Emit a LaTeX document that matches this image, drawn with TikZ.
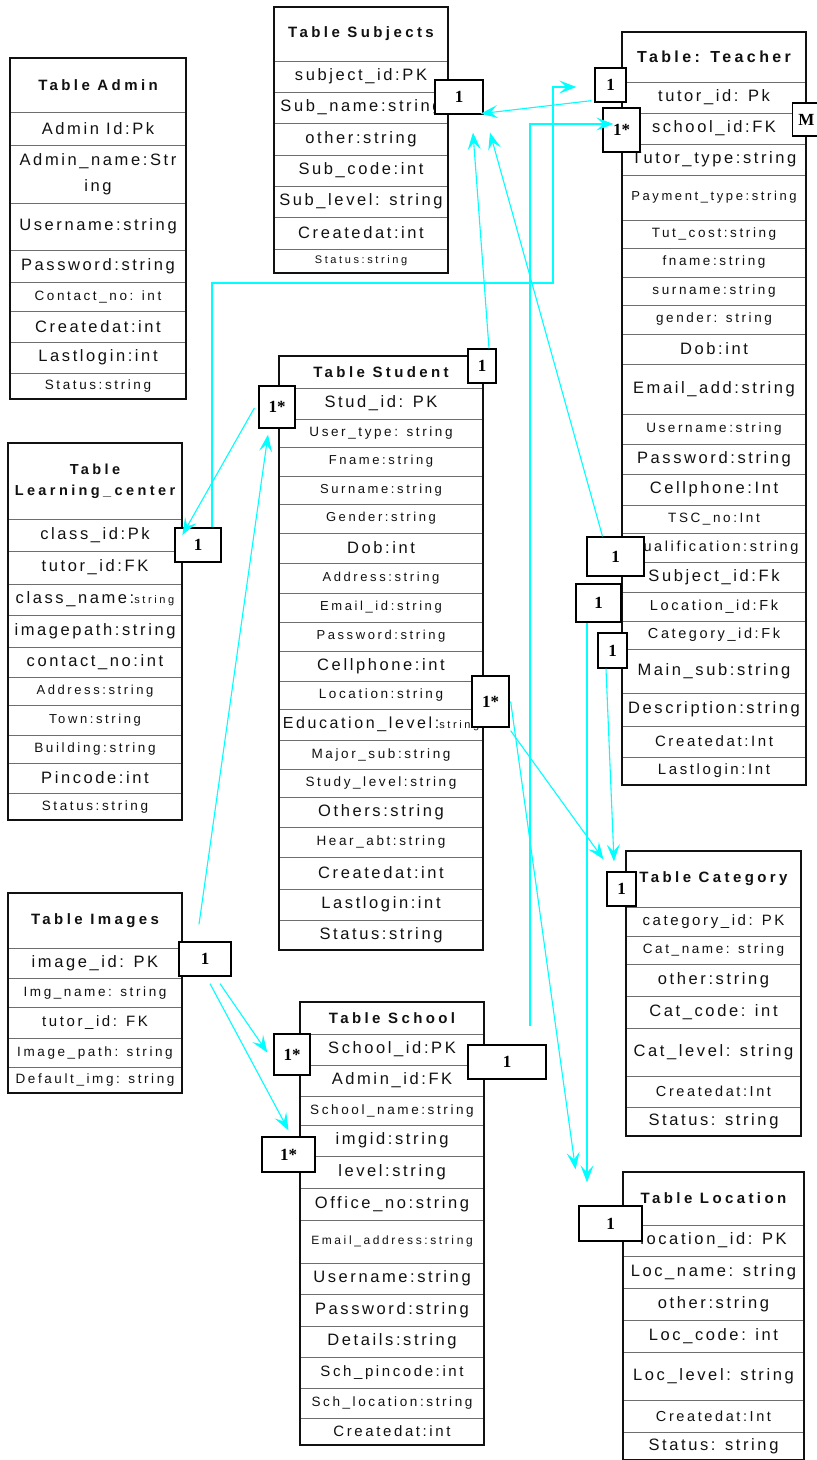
\documentclass[tikz,border=0pt]{standalone}
\usepackage{fontspec}
\usetikzlibrary{arrows.meta}
\newfontfamily\tabfont{Liberation Sans}
\newfontfamily\cardfont{Liberation Serif}
\definecolor{sepgray}{HTML}{6E6E6E}
\definecolor{linkcyan}{HTML}{00FFFF}
\definecolor{inkblack}{HTML}{111111}

% size with tracking: optional gap (pt) between letters, then font size
\newcommand\tsz[2][2.6]{\fontsize{#2}{#2}\selectfont\edef\lsspec{LetterSpace=\fpeval{round(100*(#1)/(#2),2)}}\expandafter\addfontfeature\expandafter{\lsspec}}
\newcommand\szB{\tsz{16.5}}
\newcommand\szM{\tsz{15}}
\newcommand\szS{\tsz{13.5}}
\newcommand\szT{\tsz{13}}
\newcommand\szU{\tsz{11}}
\newcommand\szH{\tsz[3.4]{15}}

% one table row: name, x1, x2, y1, y2, text
\newcommand\trow[6]{%
  \draw[sep] (#2,#4) rectangle (#3,#5);
  \node[celltext] (#1) at ({(#2+#3)/2},{(#4+#5)/2}) {#6};}
\newcommand\thead[6]{%
  \draw[sep] (#2,#4) rectangle (#3,#5);
  \node[titletext] (#1) at ({(#2+#3)/2},{(#4+#5)/2}) {#6};}

\begin{document}
\begin{tikzpicture}[x=1pt,y=-1pt,
  sep/.style={draw=sepgray,line width=0.9pt},
  frame/.style={draw=inkblack,line width=1.1pt},
  celltext/.style={inner sep=0pt,align=center,text=inkblack,font=\tabfont},
  titletext/.style={inner sep=0pt,align=center,text=inkblack,font=\tabfont\bfseries},
  card/.style={draw=black,line width=1.3pt,fill=white,inner sep=0pt,
    font=\cardfont\bfseries\fontsize{17}{17}\selectfont},
  conn/.style={draw=linkcyan,line width=1.1pt},
  link/.style={conn,-{Stealth[length=17pt,width=13pt,inset=7pt]}}
]
\fill[white] (0,0) rectangle (817,1460);
\useasboundingbox (0,0) rectangle (817,1460);

% ---------- Table Admin ----------
\thead{ad0}{10}{186}{58}{112}{\szH Table Admin}
\trow{ad1}{10}{186}{112}{145}{\szB Admin Id:Pk}
\trow{ad2}{10}{186}{145}{203}{\szB Admin\_name:Str\\[10pt]\szB ing}
\trow{ad3}{10}{186}{203}{250}{\szB Username:string}
\trow{ad4}{10}{186}{250}{282}{\szB Password:string}
\trow{ad5}{10}{186}{282}{311}{\szS Contact\_no: int}
\trow{ad6}{10}{186}{311}{342}{\szB Createdat:int}
\trow{ad7}{10}{186}{342}{373}{\szB Lastlogin:int}
\trow{ad8}{10}{186}{373}{399}{\szS Status:string}
\draw[frame] (10,58) rectangle (186,399);

% ---------- Table Subjects ----------
\thead{su0}{274}{448}{7}{61}{\szH Table Subjects}
\trow{su1}{274}{448}{61}{92}{\szB subject\_id:PK}
\trow{su2}{274}{448}{92}{123}{\szB Sub\_name:string}
\trow{su3}{274}{448}{123}{155}{\szB other:string}
\trow{su4}{274}{448}{155}{186}{\szB Sub\_code:int}
\trow{su5}{274}{448}{186}{217}{\szB Sub\_level: string}
\trow{su6}{274}{448}{217}{249}{\szB Createdat:int}
\trow{su7}{274}{448}{249}{273}{\szU Status:string}
\draw[frame] (274,7) rectangle (448,273);

% ---------- Table Teacher ----------
\thead{te0}{622}{806}{32}{82}{\tsz[3.4]{16} Table: Teacher}
\trow{te1}{622}{806}{82}{113}{\szB tutor\_id: Pk}
\trow{te2}{622}{806}{113}{144}{\szB school\_id:FK}
\trow{te3}{622}{806}{144}{175}{\szB Tutor\_type:string}
\trow{te4}{622}{806}{175}{220}{\szT Payment\_type:string}
\trow{te5}{622}{806}{220}{248}{\szS Tut\_cost:string}
\trow{te6}{622}{806}{248}{277}{\szS fname:string}
\trow{te7}{622}{806}{277}{305}{\szS surname:string}
\trow{te8}{622}{806}{305}{334}{\szS gender: string}
\trow{te9}{622}{806}{334}{364}{\szB Dob:int}
\trow{te10}{622}{806}{364}{414}{\szB Email\_add:string}
\trow{te11}{622}{806}{414}{444}{\szS Username:string}
\trow{te12}{622}{806}{444}{474}{\szB Password:string}
\trow{te13}{622}{806}{474}{505}{\szB Cellphone:Int}
\trow{te14}{622}{806}{505}{533}{\szS TSC\_no:Int}
\trow{te15}{622}{806}{533}{562}{\tsz{14.5}Qualification:string}
\trow{te16}{622}{806}{562}{592}{\szB Subject\_id:Fk}
\trow{te17}{622}{806}{592}{621}{\tsz{14.5}Location\_id:Fk}
\trow{te18}{622}{806}{621}{649}{\tsz{14.5}Category\_id:Fk}
\trow{te19}{622}{806}{649}{693}{\szB Main\_sub:string}
\trow{te20}{622}{806}{693}{726}{\szB Description:string}
\trow{te21}{622}{806}{726}{757}{\szM Createdat:Int}
\trow{te22}{622}{806}{757}{785}{\szM Lastlogin:Int}
\draw[frame] (622,32) rectangle (806,785);

% ---------- Table Student ----------
\thead{st0}{279}{483}{356}{388}{\szH Table Student}
\trow{st1}{279}{483}{388}{419}{\szB Stud\_id: PK}
\trow{st2}{279}{483}{419}{447}{\szS User\_type: string}
\trow{st3}{279}{483}{447}{476}{\szT Fname:string}
\trow{st4}{279}{483}{476}{504}{\szT Surname:string}
\trow{st5}{279}{483}{504}{533}{\szT Gender:string}
\trow{st6}{279}{483}{533}{563}{\szB Dob:int}
\trow{st7}{279}{483}{563}{593}{\szT Address:string}
\trow{st8}{279}{483}{593}{622}{\szT Email\_id:string}
\trow{st9}{279}{483}{622}{651}{\szT Password:string}
\trow{st10}{279}{483}{651}{681}{\szB Cellphone:int}
\trow{st11}{279}{483}{681}{709}{\szS Location:string}
\trow{st12}{279}{483}{709}{740}{\tsz{16}Education\_level:{\szU string}}
\trow{st13}{279}{483}{740}{769}{\szS Major\_sub:string}
\trow{st14}{279}{483}{769}{797}{\szS Study\_level:string}
\trow{st15}{279}{483}{797}{827}{\szB Others:string}
\trow{st16}{279}{483}{827}{857}{\szS Hear\_abt:string}
\trow{st17}{279}{483}{857}{889}{\szB Createdat:int}
\trow{st18}{279}{483}{889}{920}{\szB Lastlogin:int}
\trow{st19}{279}{483}{920}{950}{\szB Status:string}
\draw[frame] (279,356) rectangle (483,950);

% ---------- Table Learning_center ----------
\thead{lc0}{8}{182}{443}{519}{\tsz[3.4]{14.5}Table\\[9pt]\tsz[3.4]{14.5}Learning\_center}
\trow{lc1}{8}{182}{519}{551}{\szB class\_id:Pk}
\trow{lc2}{8}{182}{551}{584}{\szB tutor\_id:FK}
\trow{lc3}{8}{182}{584}{615}{\szB class\_name:{\szU string}}
\trow{lc4}{8}{182}{615}{647}{\szB imagepath:string}
\trow{lc5}{8}{182}{647}{677}{\szB contact\_no:int}
\trow{lc6}{8}{182}{677}{705}{\szT Address:string}
\trow{lc7}{8}{182}{705}{735}{\szT Town:string}
\trow{lc8}{8}{182}{735}{763}{\szS Building:string}
\trow{lc9}{8}{182}{763}{793}{\szB Pincode:int}
\trow{lc10}{8}{182}{793}{820}{\szS Status:string}
\draw[frame] (8,443) rectangle (182,820);

% ---------- Table Images ----------
\thead{im0}{8}{182}{893}{948}{\szH Table Images}
\trow{im1}{8}{182}{948}{978}{\szB image\_id: PK}
\trow{im2}{8}{182}{978}{1007}{\szS Img\_name: string}
\trow{im3}{8}{182}{1007}{1038}{\szM tutor\_id: FK}
\trow{im4}{8}{182}{1038}{1067}{\szS Image\_path: string}
\trow{im5}{8}{182}{1067}{1093}{\szS Default\_img: string}
\draw[frame] (8,893) rectangle (182,1093);

% ---------- Table School ----------
\thead{sc0}{300}{484}{1002}{1034}{\szH Table School}
\trow{sc1}{300}{484}{1034}{1065}{\szB School\_id:PK}
\trow{sc2}{300}{484}{1065}{1096}{\szB Admin\_id:FK}
\trow{sc3}{300}{484}{1096}{1125}{\szS School\_name:string}
\trow{sc4}{300}{484}{1125}{1156}{\szB imgid:string}
\trow{sc5}{300}{484}{1156}{1188}{\szB level:string}
\trow{sc6}{300}{484}{1188}{1220}{\szB Office\_no:string}
\trow{sc7}{300}{484}{1220}{1263}{\tsz{12}Email\_address:string}
\trow{sc8}{300}{484}{1263}{1294}{\szB Username:string}
\trow{sc9}{300}{484}{1294}{1326}{\szB Password:string}
\trow{sc10}{300}{484}{1326}{1357}{\szB Details:string}
\trow{sc11}{300}{484}{1357}{1388}{\szM Sch\_pincode:int}
\trow{sc12}{300}{484}{1388}{1418}{\szS Sch\_location:string}
\trow{sc13}{300}{484}{1418}{1445}{\szM Createdat:int}
\draw[frame] (300,1002) rectangle (484,1445);

% ---------- Table Category ----------
\thead{ca0}{626}{801}{851}{907}{\szH Table Category}
\trow{ca1}{626}{801}{907}{936}{\szM category\_id: PK}
\trow{ca2}{626}{801}{936}{964}{\szS Cat\_name: string}
\trow{ca3}{626}{801}{964}{996}{\szB other:string}
\trow{ca4}{626}{801}{996}{1028}{\szB Cat\_code: int}
\trow{ca5}{626}{801}{1028}{1076}{\szB Cat\_level: string}
\trow{ca6}{626}{801}{1076}{1107}{\tsz{14.5}Createdat:Int}
\trow{ca7}{626}{801}{1107}{1136}{\szB Status: string}
\draw[frame] (626,851) rectangle (801,1136);

% ---------- Table Location ----------
\thead{lo0}{623}{804}{1172}{1225}{\szH Table Location}
\trow{lo1}{623}{804}{1225}{1256}{\szB location\_id: PK}
\trow{lo2}{623}{804}{1256}{1288}{\szB Loc\_name: string}
\trow{lo3}{623}{804}{1288}{1320}{\szB other:string}
\trow{lo4}{623}{804}{1320}{1352}{\szB Loc\_code: int}
\trow{lo5}{623}{804}{1352}{1400}{\szB Loc\_level: string}
\trow{lo6}{623}{804}{1400}{1432}{\tsz{14.5}Createdat:Int}
\trow{lo7}{623}{804}{1432}{1459.5}{\szB Status: string}
\draw[frame] (623,1172) rectangle (804,1459.5);

% ---------- multiplicity markers ----------
\node[card,minimum width=48pt,minimum height=34pt] (cS1) at (459,97) {1};
\node[card,minimum width=31pt,minimum height=34pt] (cT1) at (610.5,85) {1};
\node[card,minimum width=37pt,minimum height=44pt] (cTs) at (621.5,130) {1*};
\node[card,minimum width=28pt,minimum height=33pt] (cTM) at (806.5,119.5) {M};
\node[card,minimum width=28pt,minimum height=34pt] (cSt1) at (482,366) {1};
\node[card,minimum width=36pt,minimum height=42pt] (cSts) at (277,407) {1*};
\node[card,minimum width=46pt,minimum height=34pt] (cLc) at (198,545) {1};
\node[card,minimum width=57pt,minimum height=39pt] (cTq) at (615.5,556.5) {1};
\node[card,minimum width=45pt,minimum height=38pt] (cTl) at (598.5,603) {1};
\node[card,minimum width=29pt,minimum height=35pt] (cTc) at (612.5,650.5) {1};
\node[card,minimum width=37pt,minimum height=51pt] (cStl) at (490.5,701.5) {1*};
\node[card,minimum width=29pt,minimum height=34pt] (cC1) at (621.5,889) {1};
\node[card,minimum width=52pt,minimum height=34pt] (cI1) at (205,959) {1};
\node[card,minimum width=36pt,minimum height=41pt] (cSc1) at (292,1054.5) {1*};
\node[card,minimum width=78pt,minimum height=34pt] (cSc2) at (507,1062) {1};
\node[card,minimum width=53pt,minimum height=35pt] (cSc3) at (288.5,1154.5) {1*};
\node[card,minimum width=63pt,minimum height=35pt] (cL1) at (610.5,1223.5) {1};

% ---------- relationships ----------
\draw[link] ([shift={(-3,-2)}]cT1.south west) -- ([shift={(-3,-1)}]cS1.south east);
\coordinate (lcBend) at (553,283);
\draw[conn,line width=2.2pt] ([xshift=14pt]cLc.north) -- ([xshift=14pt]cLc.north |- lcBend);
\draw[link,line width=1.4pt] ([xshift=14pt]cLc.north) |- (lcBend) |- ([shift={(-18,2)}]cT1.west);
\draw[link] ([shift={(23,-18)}]cSc2.north) |- ([shift={(11,-6)}]cTs.west);
\draw[link] ([xshift=7pt]cSt1.north) -- ([shift={(14,18)}]cS1.south);
\draw[link] ([xshift=-13pt]cTq.north) -- ([shift={(31,18)}]cS1.south);
\draw[link] ([shift={(-4,1)}]cSts.west) -- ([shift={(8,-10)}]cLc.west);
\draw[link] ([shift={(-6,-17)}]cI1.north) -- ([shift={(-9,6)}]cSts.south);
\draw[link] ([shift={(15,7)}]cI1.south) -- ([shift={(-6,-2)}]cSc1.west);
\draw[link] ([shift={(5,7)}]cI1.south) -- ([shift={(0,-6)}]cSc3.north);
\draw[link] ([shift={(1,0)}]cStl.east) -- ([shift={(-35,-36)}]cL1.north);
\draw[link] ([shift={(1,3)}]cStl.south east) -- ([shift={(-18,-12)}]cC1.north);
\draw[link] ([xshift=-11.5pt]cTl.south) -- ([shift={(-23.5,-23)}]cL1.north);
\draw[link] ([xshift=-6.5pt]cTc.south) -- ([shift={(-7.5,-10)}]cC1.north);
\end{tikzpicture}
\end{document}
